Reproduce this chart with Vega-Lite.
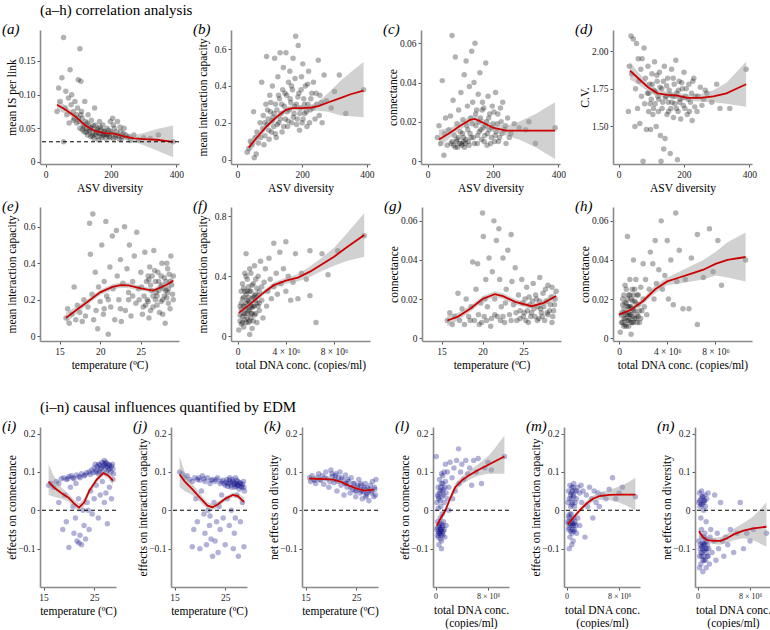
{
"$schema":"https://vega.github.io/schema/vega-lite/v6.json",
"background":"white",
"padding":{"left":2,"top":3,"right":0,"bottom":0},
"spacing":29,
"vconcat":[
{"spacing":5,"vconcat":[
{"spacing":9,"title":{"text":"(a–h) correlation analysis","fontStyle":"normal","dx":0,"dy":0,"fontSize":15},
"hconcat":[
{"width":139,"height":134,"title":"(a)","layer":[
{"data":{"name":"a"},"mark":"circle","encoding":{"x":{"field":"x","type":"quantitative","scale":{"domain":[-17,408],"nice":false,"zero":false},"axis":{"values":[0,100,200,300,400],"title":"ASV diversity","labelOverlap":false}},"y":{"field":"y","type":"quantitative","scale":{"domain":[-0.003,0.196],"nice":false,"zero":false},"axis":{"values":[0,0.05,0.1,0.15],"labelExpr":"datum.value==0?'0':format(datum.value,'.2f')","title":"mean IS per link"}}}},
{"data":{"name":"aL"},"mark":"area","encoding":{"x":{"field":"x","type":"quantitative"},"y":{"field":"lo","type":"quantitative"},"y2":{"field":"hi"}}},
{"data":{"name":"aL"},"mark":"line","encoding":{"x":{"field":"x","type":"quantitative"},"y":{"field":"y","type":"quantitative"}}},
{"data":{"values":[{"h":0.03}]},"mark":"rule","encoding":{"y":{"field":"h","type":"quantitative"}}}
]},
{"width":139,"height":134,"title":"(b)","layer":[
{"data":{"name":"b"},"mark":"circle","encoding":{"x":{"field":"x","type":"quantitative","scale":{"domain":[-20,410],"nice":false,"zero":false},"axis":{"values":[0,100,200,300,400],"title":"ASV diversity","labelOverlap":false}},"y":{"field":"y","type":"quantitative","scale":{"domain":[-0.024,0.704],"nice":false,"zero":false},"axis":{"values":[0,0.2,0.4,0.6],"labelExpr":"datum.value==0?'0':format(datum.value,'.1f')","title":"mean interaction capacity"}}}},
{"data":{"name":"bL"},"mark":"area","encoding":{"x":{"field":"x","type":"quantitative"},"y":{"field":"lo","type":"quantitative"},"y2":{"field":"hi"}}},
{"data":{"name":"bL"},"mark":"line","encoding":{"x":{"field":"x","type":"quantitative"},"y":{"field":"y","type":"quantitative"}}}
]},
{"width":139,"height":134,"title":"(c)","layer":[
{"data":{"name":"c"},"mark":"circle","encoding":{"x":{"field":"x","type":"quantitative","scale":{"domain":[-20,405],"nice":false,"zero":false},"axis":{"values":[0,100,200,300,400],"title":"ASV diversity","labelOverlap":false}},"y":{"field":"y","type":"quantitative","scale":{"domain":[-0.0015,0.0668],"nice":false,"zero":false},"axis":{"values":[0,0.02,0.04,0.06],"labelExpr":"datum.value==0?'0':format(datum.value,'.2f')","title":"connectance"}}}},
{"data":{"name":"cL"},"mark":"area","encoding":{"x":{"field":"x","type":"quantitative"},"y":{"field":"lo","type":"quantitative"},"y2":{"field":"hi"}}},
{"data":{"name":"cL"},"mark":"line","encoding":{"x":{"field":"x","type":"quantitative"},"y":{"field":"y","type":"quantitative"}}}
]},
{"width":139,"height":134,"title":"(d)","layer":[
{"data":{"name":"d"},"mark":"circle","encoding":{"x":{"field":"x","type":"quantitative","scale":{"domain":[-17,408],"nice":false,"zero":false},"axis":{"values":[0,100,200,300,400],"title":"ASV diversity","labelOverlap":false}},"y":{"field":"y","type":"quantitative","scale":{"domain":[1.251,2.14],"nice":false,"zero":false},"axis":{"values":[1.5,1.75,2.0],"format":".2f","title":"C.V."}}}},
{"data":{"name":"dL"},"mark":"area","encoding":{"x":{"field":"x","type":"quantitative"},"y":{"field":"lo","type":"quantitative"},"y2":{"field":"hi"}}},
{"data":{"name":"dL"},"mark":"line","encoding":{"x":{"field":"x","type":"quantitative"},"y":{"field":"y","type":"quantitative"}}}
]}
]},
{"spacing":14,"hconcat":[
{"width":139,"height":134,"title":"(e)","layer":[
{"data":{"name":"e"},"mark":"circle","encoding":{"x":{"field":"x","type":"quantitative","scale":{"domain":[12.6,29.7],"nice":false,"zero":false},"axis":{"values":[15,20,25],"title":"temperature (ºC)","labelOverlap":false}},"y":{"field":"y","type":"quantitative","scale":{"domain":[-0.027,0.709],"nice":false,"zero":false},"axis":{"values":[0,0.2,0.4,0.6],"labelExpr":"datum.value==0?'0':format(datum.value,'.1f')","title":"mean interaction capacity"}}}},
{"data":{"name":"eL"},"mark":"area","encoding":{"x":{"field":"x","type":"quantitative"},"y":{"field":"lo","type":"quantitative"},"y2":{"field":"hi"}}},
{"data":{"name":"eL"},"mark":"line","encoding":{"x":{"field":"x","type":"quantitative"},"y":{"field":"y","type":"quantitative"}}}
]},
{"width":139,"height":134,"title":"(f)","layer":[
{"data":{"name":"f"},"mark":"circle","encoding":{"x":{"field":"x","type":"quantitative","scale":{"domain":[-550000,10980000],"nice":false,"zero":false},"axis":{"values":[0,4000000,8000000],"labelExpr":"datum.value==0?'0':format(datum.value/1e6,'d')+' × 10⁶'","title":"total DNA conc. (copies/ml)","labelOverlap":false}},"y":{"field":"y","type":"quantitative","scale":{"domain":[-0.033,0.862],"nice":false,"zero":false},"axis":{"values":[0,0.2,0.4,0.6,0.8],"labelExpr":"datum.value==0?'0':format(datum.value,'.1f')","title":"mean interaction capacity"}}}},
{"data":{"name":"fL"},"mark":"area","encoding":{"x":{"field":"x","type":"quantitative"},"y":{"field":"lo","type":"quantitative"},"y2":{"field":"hi"}}},
{"data":{"name":"fL"},"mark":"line","encoding":{"x":{"field":"x","type":"quantitative"},"y":{"field":"y","type":"quantitative"}}}
]},
{"width":139,"height":134,"title":"(g)","layer":[
{"data":{"name":"g"},"mark":"circle","encoding":{"x":{"field":"x","type":"quantitative","scale":{"domain":[12.6,29.6],"nice":false,"zero":false},"axis":{"values":[15,20,25],"title":"temperature (ºC)","labelOverlap":false}},"y":{"field":"y","type":"quantitative","scale":{"domain":[-0.0015,0.0671],"nice":false,"zero":false},"axis":{"values":[0,0.02,0.04,0.06],"labelExpr":"datum.value==0?'0':format(datum.value,'.2f')","title":"connectance"}}}},
{"data":{"name":"gL"},"mark":"area","encoding":{"x":{"field":"x","type":"quantitative"},"y":{"field":"lo","type":"quantitative"},"y2":{"field":"hi"}}},
{"data":{"name":"gL"},"mark":"line","encoding":{"x":{"field":"x","type":"quantitative"},"y":{"field":"y","type":"quantitative"}}}
]},
{"width":139,"height":134,"title":"(h)","layer":[
{"data":{"name":"h"},"mark":"circle","encoding":{"x":{"field":"x","type":"quantitative","scale":{"domain":[-500000,11030000],"nice":false,"zero":false},"axis":{"values":[0,4000000,8000000],"labelExpr":"datum.value==0?'0':format(datum.value/1e6,'d')+' × 10⁶'","title":"total DNA conc. (copies/ml)","labelOverlap":false}},"y":{"field":"y","type":"quantitative","scale":{"domain":[-0.0015,0.0671],"nice":false,"zero":false},"axis":{"values":[0,0.02,0.04,0.06],"labelExpr":"datum.value==0?'0':format(datum.value,'.2f')","title":"connectance"}}}},
{"data":{"name":"hL"},"mark":"area","encoding":{"x":{"field":"x","type":"quantitative"},"y":{"field":"lo","type":"quantitative"},"y2":{"field":"hi"}}},
{"data":{"name":"hL"},"mark":"line","encoding":{"x":{"field":"x","type":"quantitative"},"y":{"field":"y","type":"quantitative"}}}
]}
]}
]},
{"spacing":16,"title":{"text":"(i–n) causal influences quantified by EDM","fontStyle":"normal","dx":0,"dy":0,"fontSize":15},
"hconcat":[
{"width":76,"height":160,"title":"(i)","layer":[
{"data":{"name":"i"},"mark":{"type":"circle","color":"#000080","opacity":0.3},"encoding":{"x":{"field":"x","type":"quantitative","scale":{"domain":[14.3,29.3],"nice":false,"zero":false},"axis":{"values":[15,20,25],"title":"temperature (ºC)","labelOverlap":false,"labelFlush":false}},"y":{"field":"y","type":"quantitative","scale":{"domain":[-0.2,0.217],"nice":false,"zero":false},"axis":{"values":[-0.1,0,0.1,0.2],"labelExpr":"datum.value==0?'0':format(datum.value,'.1f')","title":"effects on connectance"}}}},
{"data":{"name":"iL"},"mark":"area","encoding":{"x":{"field":"x","type":"quantitative"},"y":{"field":"lo","type":"quantitative"},"y2":{"field":"hi"}}},
{"data":{"name":"iL"},"mark":"line","encoding":{"x":{"field":"x","type":"quantitative"},"y":{"field":"y","type":"quantitative"}}},
{"data":{"values":[{"h":0}]},"mark":"rule","encoding":{"y":{"field":"h","type":"quantitative"}}}
]},
{"width":76,"height":160,"title":"(j)","layer":[
{"data":{"name":"j"},"mark":{"type":"circle","color":"#000080","opacity":0.3},"encoding":{"x":{"field":"x","type":"quantitative","scale":{"domain":[14.3,29.3],"nice":false,"zero":false},"axis":{"values":[15,20,25],"title":"temperature (ºC)","labelOverlap":false,"labelFlush":false}},"y":{"field":"y","type":"quantitative","scale":{"domain":[-0.2,0.217],"nice":false,"zero":false},"axis":{"values":[-0.1,0,0.1,0.2],"labelExpr":"datum.value==0?'0':format(datum.value,'.1f')","title":"effects on interaction capacity"}}}},
{"data":{"name":"jL"},"mark":"area","encoding":{"x":{"field":"x","type":"quantitative"},"y":{"field":"lo","type":"quantitative"},"y2":{"field":"hi"}}},
{"data":{"name":"jL"},"mark":"line","encoding":{"x":{"field":"x","type":"quantitative"},"y":{"field":"y","type":"quantitative"}}},
{"data":{"values":[{"h":0}]},"mark":"rule","encoding":{"y":{"field":"h","type":"quantitative"}}}
]},
{"width":76,"height":160,"title":"(k)","layer":[
{"data":{"name":"k"},"mark":{"type":"circle","color":"#000080","opacity":0.3},"encoding":{"x":{"field":"x","type":"quantitative","scale":{"domain":[14.3,29.3],"nice":false,"zero":false},"axis":{"values":[15,20,25],"title":"temperature (ºC)","labelOverlap":false,"labelFlush":false}},"y":{"field":"y","type":"quantitative","scale":{"domain":[-0.2,0.217],"nice":false,"zero":false},"axis":{"values":[-0.1,0,0.1,0.2],"labelExpr":"datum.value==0?'0':format(datum.value,'.1f')","title":"net effects on diversity"}}}},
{"data":{"name":"kL"},"mark":"area","encoding":{"x":{"field":"x","type":"quantitative"},"y":{"field":"lo","type":"quantitative"},"y2":{"field":"hi"}}},
{"data":{"name":"kL"},"mark":"line","encoding":{"x":{"field":"x","type":"quantitative"},"y":{"field":"y","type":"quantitative"}}},
{"data":{"values":[{"h":0}]},"mark":"rule","encoding":{"y":{"field":"h","type":"quantitative"}}}
]},
{"width":76,"height":160,"title":"(l)","layer":[
{"data":{"name":"l"},"mark":{"type":"circle","color":"#000080","opacity":0.3},"encoding":{"x":{"field":"x","type":"quantitative","scale":{"domain":[-400000,11200000],"nice":false,"zero":false},"axis":{"values":[0,4000000,8000000],"labelExpr":"datum.value==0?'0':format(datum.value/1e6,'d')+' × 10⁶'","title":["total DNA conc.","(copies/ml)"],"titleLineHeight":13,"labelOverlap":false,"labelFlush":false,"labelFontSize":8}},"y":{"field":"y","type":"quantitative","scale":{"domain":[-0.2,0.217],"nice":false,"zero":false},"axis":{"values":[-0.1,0,0.1,0.2],"labelExpr":"datum.value==0?'0':format(datum.value,'.1f')","title":"effects on connectance"}}}},
{"data":{"name":"lL"},"mark":"area","encoding":{"x":{"field":"x","type":"quantitative"},"y":{"field":"lo","type":"quantitative"},"y2":{"field":"hi"}}},
{"data":{"name":"lL"},"mark":"line","encoding":{"x":{"field":"x","type":"quantitative"},"y":{"field":"y","type":"quantitative"}}},
{"data":{"values":[{"h":0}]},"mark":"rule","encoding":{"y":{"field":"h","type":"quantitative"}}}
]},
{"width":76,"height":160,"title":"(m)","layer":[
{"data":{"name":"m"},"mark":{"type":"circle","color":"#000080","opacity":0.3},"encoding":{"x":{"field":"x","type":"quantitative","scale":{"domain":[-400000,11200000],"nice":false,"zero":false},"axis":{"values":[0,4000000,8000000],"labelExpr":"datum.value==0?'0':format(datum.value/1e6,'d')+' × 10⁶'","title":["total DNA conc.","(copies/ml)"],"titleLineHeight":13,"labelOverlap":false,"labelFlush":false,"labelFontSize":8}},"y":{"field":"y","type":"quantitative","scale":{"domain":[-0.2,0.217],"nice":false,"zero":false},"axis":{"values":[-0.1,0,0.1,0.2],"labelExpr":"datum.value==0?'0':format(datum.value,'.1f')","title":"effects on interaction capacity"}}}},
{"data":{"name":"mL"},"mark":"area","encoding":{"x":{"field":"x","type":"quantitative"},"y":{"field":"lo","type":"quantitative"},"y2":{"field":"hi"}}},
{"data":{"name":"mL"},"mark":"line","encoding":{"x":{"field":"x","type":"quantitative"},"y":{"field":"y","type":"quantitative"}}},
{"data":{"values":[{"h":0}]},"mark":"rule","encoding":{"y":{"field":"h","type":"quantitative"}}}
]},
{"width":76,"height":160,"title":"(n)","layer":[
{"data":{"name":"n"},"mark":{"type":"circle","color":"#000080","opacity":0.3},"encoding":{"x":{"field":"x","type":"quantitative","scale":{"domain":[-400000,11200000],"nice":false,"zero":false},"axis":{"values":[0,4000000,8000000],"labelExpr":"datum.value==0?'0':format(datum.value/1e6,'d')+' × 10⁶'","title":["total DNA conc.","(copies/ml)"],"titleLineHeight":13,"labelOverlap":false,"labelFlush":false,"labelFontSize":8}},"y":{"field":"y","type":"quantitative","scale":{"domain":[-0.2,0.217],"nice":false,"zero":false},"axis":{"values":[-0.1,0,0.1,0.2],"labelExpr":"datum.value==0?'0':format(datum.value,'.1f')","title":"net effects on diversity"}}}},
{"data":{"name":"nL"},"mark":"area","encoding":{"x":{"field":"x","type":"quantitative"},"y":{"field":"lo","type":"quantitative"},"y2":{"field":"hi"}}},
{"data":{"name":"nL"},"mark":"line","encoding":{"x":{"field":"x","type":"quantitative"},"y":{"field":"y","type":"quantitative"}}},
{"data":{"values":[{"h":0}]},"mark":"rule","encoding":{"y":{"field":"h","type":"quantitative"}}}
]}
]}
],
"config":{
"view":{"stroke":null},
"font":"Liberation Serif, Times New Roman, DejaVu Serif, serif",
"title":{"font":"Liberation Serif, Times New Roman, DejaVu Serif, serif","fontSize":15,"fontWeight":"normal","fontStyle":"italic","anchor":"start","frame":"group","dx":-38,"dy":11,"color":"#000000"},
"axis":{"grid":false,"domainColor":"#8a8a8a","domainWidth":1.6,"tickColor":"#555555","tickSize":3,"labelFont":"Liberation Serif, Times New Roman, DejaVu Serif, serif","labelFontSize":9.5,"labelColor":"#1a1a1a","titleFont":"Liberation Serif, Times New Roman, DejaVu Serif, serif","titleFontSize":11.5,"titleFontWeight":"normal","titleColor":"#000000","labelPadding":2,"titlePadding":4,"labelOverlap":false,"labelSeparation":0,"labelBound":false},
"axisX":{"labelOverlap":false},
"axisY":{"minExtent":20,"maxExtent":20,"titlePadding":3},
"circle":{"size":30,"opacity":0.3,"color":"#000000"},
"area":{"color":"#999999","opacity":0.45},
"line":{"color":"#cc0000","strokeWidth":1.8},
"rule":{"color":"#000000","strokeDash":[4,3],"strokeWidth":1}
},
"datasets":{
"a":[{"x":35,"y":0.075},{"x":40,"y":0.11},{"x":45,"y":0.09},{"x":50,"y":0.125},{"x":55,"y":0.185},{"x":55,"y":0.03},{"x":60,"y":0.08},{"x":62,"y":0.105},{"x":65,"y":0.07},{"x":70,"y":0.095},{"x":72,"y":0.058},{"x":75,"y":0.137},{"x":78,"y":0.085},{"x":80,"y":0.1},{"x":85,"y":0.075},{"x":88,"y":0.065},{"x":90,"y":0.09},{"x":95,"y":0.07},{"x":98,"y":0.08},{"x":100,"y":0.122},{"x":102,"y":0.06},{"x":105,"y":0.168},{"x":105,"y":0.05},{"x":108,"y":0.12},{"x":110,"y":0.075},{"x":112,"y":0.065},{"x":115,"y":0.055},{"x":118,"y":0.045},{"x":120,"y":0.09},{"x":122,"y":0.06},{"x":125,"y":0.05},{"x":128,"y":0.04},{"x":130,"y":0.07},{"x":132,"y":0.055},{"x":135,"y":0.045},{"x":138,"y":0.038},{"x":140,"y":0.062},{"x":142,"y":0.05},{"x":145,"y":0.042},{"x":148,"y":0.035},{"x":150,"y":0.08},{"x":152,"y":0.055},{"x":155,"y":0.045},{"x":158,"y":0.038},{"x":160,"y":0.05},{"x":162,"y":0.033},{"x":165,"y":0.06},{"x":168,"y":0.042},{"x":170,"y":0.048},{"x":172,"y":0.036},{"x":175,"y":0.055},{"x":178,"y":0.04},{"x":180,"y":0.045},{"x":185,"y":0.035},{"x":188,"y":0.05},{"x":190,"y":0.042},{"x":195,"y":0.038},{"x":198,"y":0.06},{"x":200,"y":0.045},{"x":205,"y":0.065},{"x":208,"y":0.035},{"x":210,"y":0.05},{"x":215,"y":0.04},{"x":220,"y":0.06},{"x":225,"y":0.034},{"x":230,"y":0.045},{"x":235,"y":0.038},{"x":240,"y":0.05},{"x":250,"y":0.036},{"x":260,"y":0.032},{"x":270,"y":0.04},{"x":285,"y":0.033},{"x":300,"y":0.036},{"x":320,"y":0.035},{"x":345,"y":0.04},{"x":390,"y":0.03},{"x":112,"y":0.048},{"x":118,"y":0.052},{"x":124,"y":0.044},{"x":127,"y":0.058},{"x":133,"y":0.047},{"x":137,"y":0.051},{"x":143,"y":0.039},{"x":146,"y":0.054},{"x":153,"y":0.041},{"x":157,"y":0.048},{"x":163,"y":0.043},{"x":167,"y":0.052},{"x":173,"y":0.039},{"x":177,"y":0.046},{"x":183,"y":0.042},{"x":187,"y":0.04},{"x":193,"y":0.047},{"x":197,"y":0.036},{"x":203,"y":0.042},{"x":207,"y":0.055},{"x":213,"y":0.037},{"x":217,"y":0.045},{"x":223,"y":0.039},{"x":228,"y":0.052},{"x":233,"y":0.035},{"x":238,"y":0.042},{"x":245,"y":0.04},{"x":255,"y":0.038},{"x":100,"y":0.065},{"x":95,"y":0.058},{"x":85,"y":0.062},{"x":108,"y":0.07}],
"aL":[{"x":35,"y":0.085,"lo":0.077,"hi":0.094},{"x":60,"y":0.078,"lo":0.072,"hi":0.084},{"x":90,"y":0.068,"lo":0.064,"hi":0.072},{"x":120,"y":0.055,"lo":0.052,"hi":0.058},{"x":150,"y":0.046,"lo":0.044,"hi":0.048},{"x":180,"y":0.043,"lo":0.041,"hi":0.045},{"x":210,"y":0.042,"lo":0.04,"hi":0.044},{"x":240,"y":0.038,"lo":0.035,"hi":0.041},{"x":270,"y":0.035,"lo":0.03,"hi":0.04},{"x":300,"y":0.034,"lo":0.025,"hi":0.043},{"x":340,"y":0.033,"lo":0.017,"hi":0.049},{"x":390,"y":0.03,"lo":0.007,"hi":0.054}],
"b":[{"x":30,"y":0.04},{"x":35,"y":0.06},{"x":40,"y":0.1},{"x":45,"y":0.08},{"x":50,"y":0.26},{"x":52,"y":0.01},{"x":55,"y":0.12},{"x":58,"y":0.03},{"x":60,"y":0.15},{"x":65,"y":0.09},{"x":70,"y":0.2},{"x":72,"y":0.12},{"x":75,"y":0.42},{"x":78,"y":0.17},{"x":80,"y":0.24},{"x":82,"y":0.08},{"x":85,"y":0.13},{"x":88,"y":0.3},{"x":90,"y":0.56},{"x":92,"y":0.19},{"x":95,"y":0.22},{"x":98,"y":0.11},{"x":100,"y":0.35},{"x":102,"y":0.26},{"x":105,"y":0.15},{"x":108,"y":0.4},{"x":110,"y":0.23},{"x":112,"y":0.18},{"x":115,"y":0.55},{"x":118,"y":0.3},{"x":120,"y":0.12},{"x":122,"y":0.27},{"x":125,"y":0.45},{"x":128,"y":0.2},{"x":130,"y":0.33},{"x":132,"y":0.58},{"x":135,"y":0.25},{"x":138,"y":0.15},{"x":140,"y":0.38},{"x":142,"y":0.5},{"x":145,"y":0.29},{"x":148,"y":0.22},{"x":150,"y":0.58},{"x":152,"y":0.35},{"x":155,"y":0.18},{"x":158,"y":0.42},{"x":160,"y":0.27},{"x":162,"y":0.48},{"x":165,"y":0.31},{"x":168,"y":0.2},{"x":170,"y":0.38},{"x":172,"y":0.55},{"x":175,"y":0.25},{"x":178,"y":0.44},{"x":180,"y":0.67},{"x":182,"y":0.3},{"x":185,"y":0.22},{"x":188,"y":0.62},{"x":190,"y":0.36},{"x":192,"y":0.16},{"x":195,"y":0.28},{"x":198,"y":0.45},{"x":200,"y":0.2},{"x":202,"y":0.52},{"x":205,"y":0.33},{"x":208,"y":0.25},{"x":210,"y":0.4},{"x":215,"y":0.18},{"x":218,"y":0.3},{"x":220,"y":0.48},{"x":225,"y":0.27},{"x":230,"y":0.36},{"x":235,"y":0.42},{"x":240,"y":0.22},{"x":245,"y":0.3},{"x":250,"y":0.54},{"x":255,"y":0.35},{"x":262,"y":0.2},{"x":268,"y":0.46},{"x":275,"y":0.32},{"x":290,"y":0.28},{"x":300,"y":0.37},{"x":315,"y":0.46},{"x":335,"y":0.25},{"x":390,"y":0.38},{"x":85,"y":0.2},{"x":93,"y":0.27},{"x":97,"y":0.16},{"x":103,"y":0.31},{"x":107,"y":0.21},{"x":113,"y":0.25},{"x":117,"y":0.14},{"x":123,"y":0.19},{"x":127,"y":0.35},{"x":133,"y":0.22},{"x":137,"y":0.3},{"x":143,"y":0.18},{"x":147,"y":0.36},{"x":153,"y":0.26},{"x":157,"y":0.21},{"x":163,"y":0.33},{"x":167,"y":0.4},{"x":173,"y":0.23},{"x":177,"y":0.29},{"x":183,"y":0.19},{"x":187,"y":0.34},{"x":193,"y":0.25},{"x":197,"y":0.38},{"x":203,"y":0.22},{"x":207,"y":0.3},{"x":213,"y":0.26},{"x":217,"y":0.41},{"x":223,"y":0.2},{"x":227,"y":0.33},{"x":233,"y":0.28},{"x":243,"y":0.36},{"x":253,"y":0.24},{"x":260,"y":0.31}],
"bL":[{"x":35,"y":0.065,"lo":0.03,"hi":0.1},{"x":60,"y":0.12,"lo":0.095,"hi":0.145},{"x":90,"y":0.18,"lo":0.165,"hi":0.195},{"x":120,"y":0.23,"lo":0.215,"hi":0.245},{"x":150,"y":0.27,"lo":0.255,"hi":0.285},{"x":170,"y":0.28,"lo":0.265,"hi":0.295},{"x":200,"y":0.28,"lo":0.265,"hi":0.295},{"x":230,"y":0.283,"lo":0.265,"hi":0.3},{"x":250,"y":0.29,"lo":0.265,"hi":0.315},{"x":280,"y":0.31,"lo":0.26,"hi":0.36},{"x":320,"y":0.335,"lo":0.24,"hi":0.43},{"x":350,"y":0.355,"lo":0.235,"hi":0.475},{"x":390,"y":0.375,"lo":0.23,"hi":0.53}],
"c":[{"x":30,"y":0.012},{"x":35,"y":0.018},{"x":40,"y":0.009},{"x":45,"y":0.041},{"x":50,"y":0.003},{"x":52,"y":0.014},{"x":55,"y":0.022},{"x":60,"y":0.008},{"x":65,"y":0.016},{"x":70,"y":0.023},{"x":72,"y":0.009},{"x":75,"y":0.064},{"x":78,"y":0.031},{"x":80,"y":0.008},{"x":82,"y":0.013},{"x":85,"y":0.053},{"x":88,"y":0.01},{"x":90,"y":0.019},{"x":92,"y":0.007},{"x":95,"y":0.026},{"x":98,"y":0.009},{"x":100,"y":0.015},{"x":102,"y":0.035},{"x":105,"y":0.008},{"x":108,"y":0.021},{"x":110,"y":0.012},{"x":112,"y":0.044},{"x":115,"y":0.009},{"x":118,"y":0.051},{"x":120,"y":0.018},{"x":122,"y":0.028},{"x":125,"y":0.01},{"x":128,"y":0.038},{"x":130,"y":0.014},{"x":132,"y":0.022},{"x":135,"y":0.056},{"x":138,"y":0.03},{"x":140,"y":0.012},{"x":142,"y":0.04},{"x":145,"y":0.06},{"x":148,"y":0.018},{"x":150,"y":0.026},{"x":152,"y":0.009},{"x":155,"y":0.034},{"x":158,"y":0.015},{"x":160,"y":0.045},{"x":162,"y":0.022},{"x":165,"y":0.011},{"x":168,"y":0.03},{"x":170,"y":0.017},{"x":172,"y":0.027},{"x":175,"y":0.013},{"x":178,"y":0.05},{"x":180,"y":0.02},{"x":182,"y":0.008},{"x":185,"y":0.033},{"x":188,"y":0.016},{"x":190,"y":0.024},{"x":195,"y":0.012},{"x":198,"y":0.028},{"x":200,"y":0.019},{"x":205,"y":0.01},{"x":208,"y":0.035},{"x":210,"y":0.015},{"x":215,"y":0.024},{"x":220,"y":0.012},{"x":225,"y":0.02},{"x":230,"y":0.03},{"x":235,"y":0.016},{"x":240,"y":0.009},{"x":245,"y":0.022},{"x":255,"y":0.014},{"x":265,"y":0.019},{"x":280,"y":0.017},{"x":300,"y":0.016},{"x":310,"y":0.02},{"x":330,"y":0.009},{"x":390,"y":0.017},{"x":75,"y":0.01},{"x":85,"y":0.007},{"x":95,"y":0.012},{"x":103,"y":0.009},{"x":107,"y":0.014},{"x":113,"y":0.007},{"x":117,"y":0.011},{"x":123,"y":0.016},{"x":127,"y":0.008},{"x":133,"y":0.012},{"x":137,"y":0.019},{"x":143,"y":0.009},{"x":147,"y":0.024},{"x":153,"y":0.013},{"x":157,"y":0.02},{"x":163,"y":0.016},{"x":167,"y":0.026},{"x":173,"y":0.01},{"x":177,"y":0.018},{"x":183,"y":0.014},{"x":187,"y":0.022},{"x":193,"y":0.009},{"x":197,"y":0.017},{"x":203,"y":0.025},{"x":207,"y":0.013},{"x":213,"y":0.019},{"x":217,"y":0.01},{"x":223,"y":0.027},{"x":228,"y":0.014},{"x":238,"y":0.018},{"x":250,"y":0.012},{"x":90,"y":0.011},{"x":110,"y":0.01}],
"cL":[{"x":35,"y":0.011,"lo":0.007,"hi":0.016},{"x":70,"y":0.0145,"lo":0.012,"hi":0.017},{"x":100,"y":0.018,"lo":0.016,"hi":0.02},{"x":130,"y":0.021,"lo":0.019,"hi":0.023},{"x":145,"y":0.0215,"lo":0.0195,"hi":0.0235},{"x":170,"y":0.0195,"lo":0.0175,"hi":0.0215},{"x":200,"y":0.017,"lo":0.015,"hi":0.019},{"x":240,"y":0.0155,"lo":0.013,"hi":0.018},{"x":280,"y":0.0155,"lo":0.011,"hi":0.02},{"x":330,"y":0.0155,"lo":0.007,"hi":0.024},{"x":390,"y":0.0155,"lo":0.001,"hi":0.03}],
"d":[{"x":30,"y":1.6},{"x":33,"y":1.9},{"x":38,"y":2.1},{"x":40,"y":1.85},{"x":45,"y":2.08},{"x":50,"y":1.5},{"x":52,"y":1.75},{"x":55,"y":2.05},{"x":58,"y":1.62},{"x":60,"y":1.95},{"x":62,"y":1.8},{"x":65,"y":1.52},{"x":68,"y":1.88},{"x":70,"y":1.7},{"x":72,"y":1.95},{"x":75,"y":1.27},{"x":78,"y":2.02},{"x":80,"y":1.65},{"x":82,"y":1.82},{"x":85,"y":1.48},{"x":88,"y":1.72},{"x":90,"y":1.9},{"x":92,"y":1.6},{"x":95,"y":1.78},{"x":98,"y":1.48},{"x":100,"y":1.68},{"x":102,"y":1.85},{"x":105,"y":1.58},{"x":108,"y":1.74},{"x":110,"y":1.93},{"x":112,"y":1.65},{"x":115,"y":1.5},{"x":118,"y":1.8},{"x":120,"y":1.7},{"x":122,"y":1.6},{"x":125,"y":1.86},{"x":128,"y":1.44},{"x":130,"y":1.27},{"x":132,"y":1.75},{"x":135,"y":1.66},{"x":138,"y":1.35},{"x":140,"y":1.9},{"x":142,"y":1.42},{"x":145,"y":1.7},{"x":148,"y":1.58},{"x":150,"y":1.82},{"x":152,"y":1.66},{"x":155,"y":1.74},{"x":158,"y":1.32},{"x":160,"y":1.62},{"x":162,"y":1.88},{"x":165,"y":1.7},{"x":168,"y":1.56},{"x":170,"y":1.78},{"x":172,"y":1.65},{"x":175,"y":1.94},{"x":178,"y":1.72},{"x":180,"y":1.28},{"x":182,"y":1.6},{"x":185,"y":1.8},{"x":188,"y":1.68},{"x":190,"y":1.55},{"x":195,"y":1.75},{"x":198,"y":1.64},{"x":200,"y":1.86},{"x":205,"y":1.7},{"x":210,"y":1.58},{"x":215,"y":1.78},{"x":220,"y":1.66},{"x":225,"y":1.54},{"x":230,"y":1.82},{"x":235,"y":1.7},{"x":240,"y":1.6},{"x":250,"y":1.76},{"x":260,"y":1.68},{"x":270,"y":1.72},{"x":285,"y":1.66},{"x":300,"y":1.78},{"x":310,"y":1.62},{"x":340,"y":1.62},{"x":390,"y":1.88},{"x":93,"y":1.72},{"x":97,"y":1.65},{"x":103,"y":1.78},{"x":107,"y":1.62},{"x":113,"y":1.73},{"x":117,"y":1.84},{"x":123,"y":1.68},{"x":127,"y":1.76},{"x":133,"y":1.62},{"x":137,"y":1.8},{"x":143,"y":1.69},{"x":147,"y":1.77},{"x":153,"y":1.6},{"x":157,"y":1.71},{"x":163,"y":1.66},{"x":167,"y":1.82},{"x":173,"y":1.7},{"x":177,"y":1.62},{"x":183,"y":1.74},{"x":187,"y":1.66},{"x":193,"y":1.79},{"x":197,"y":1.69},{"x":203,"y":1.62},{"x":207,"y":1.75},{"x":213,"y":1.68},{"x":217,"y":1.6},{"x":223,"y":1.72},{"x":227,"y":1.8},{"x":233,"y":1.63},{"x":243,"y":1.7},{"x":255,"y":1.64},{"x":265,"y":1.74}],
"dL":[{"x":35,"y":1.87,"lo":1.81,"hi":1.93},{"x":60,"y":1.82,"lo":1.78,"hi":1.86},{"x":90,"y":1.76,"lo":1.73,"hi":1.79},{"x":120,"y":1.72,"lo":1.7,"hi":1.74},{"x":150,"y":1.71,"lo":1.69,"hi":1.73},{"x":180,"y":1.705,"lo":1.685,"hi":1.725},{"x":210,"y":1.69,"lo":1.67,"hi":1.71},{"x":250,"y":1.69,"lo":1.665,"hi":1.715},{"x":290,"y":1.7,"lo":1.66,"hi":1.74},{"x":330,"y":1.72,"lo":1.65,"hi":1.79},{"x":360,"y":1.75,"lo":1.64,"hi":1.86},{"x":390,"y":1.78,"lo":1.63,"hi":1.93}],
"e":[{"x":15.8,"y":0.1},{"x":16,"y":0.15},{"x":16.2,"y":0.07},{"x":16.5,"y":0.12},{"x":16.8,"y":0.27},{"x":17,"y":0.09},{"x":17.2,"y":0.17},{"x":17.5,"y":0.13},{"x":17.8,"y":0.08},{"x":18,"y":0.2},{"x":18.2,"y":0.11},{"x":18.5,"y":0.16},{"x":18.7,"y":0.62},{"x":18.8,"y":0.45},{"x":19,"y":0.23},{"x":19.1,"y":0.67},{"x":19.2,"y":0.09},{"x":19.4,"y":0.35},{"x":19.5,"y":0.14},{"x":19.7,"y":0.04},{"x":19.8,"y":0.27},{"x":20,"y":0.19},{"x":20.2,"y":0.5},{"x":20.4,"y":0.12},{"x":20.5,"y":0.3},{"x":20.7,"y":0.63},{"x":20.8,"y":0.22},{"x":21,"y":0.01},{"x":21.2,"y":0.38},{"x":21.3,"y":0.16},{"x":21.5,"y":0.55},{"x":21.6,"y":0.26},{"x":21.8,"y":0.09},{"x":22,"y":0.58},{"x":22.1,"y":0.33},{"x":22.3,"y":0.2},{"x":22.5,"y":0.42},{"x":22.6,"y":0.08},{"x":22.8,"y":0.29},{"x":23,"y":0.6},{"x":23.1,"y":0.14},{"x":23.3,"y":0.37},{"x":23.5,"y":0.24},{"x":23.6,"y":0.5},{"x":23.8,"y":0.11},{"x":24,"y":0.3},{"x":24.2,"y":0.44},{"x":24.4,"y":0.18},{"x":24.5,"y":0.57},{"x":24.7,"y":0.26},{"x":25,"y":0.35},{"x":25.2,"y":0.12},{"x":25.4,"y":0.22},{"x":25.5,"y":0.46},{"x":25.7,"y":0.3},{"x":25.9,"y":0.19},{"x":26,"y":0.1},{"x":26.1,"y":0.38},{"x":26.3,"y":0.25},{"x":26.5,"y":0.16},{"x":26.6,"y":0.47},{"x":26.8,"y":0.3},{"x":27,"y":0.22},{"x":27.1,"y":0.35},{"x":27.3,"y":0.13},{"x":27.4,"y":0.27},{"x":27.6,"y":0.4},{"x":27.7,"y":0.2},{"x":27.9,"y":0.32},{"x":28,"y":0.07},{"x":28.1,"y":0.25},{"x":28.3,"y":0.37},{"x":28.4,"y":0.18},{"x":28.6,"y":0.3},{"x":28.7,"y":0.44},{"x":28.9,"y":0.23},{"x":29,"y":0.33},{"x":25.8,"y":0.2},{"x":26.2,"y":0.28},{"x":26.9,"y":0.24},{"x":27.2,"y":0.3},{"x":27.8,"y":0.26},{"x":28.2,"y":0.21},{"x":28.5,"y":0.34},{"x":25.6,"y":0.17},{"x":26.4,"y":0.33},{"x":27.5,"y":0.19},{"x":24.8,"y":0.2},{"x":25.1,"y":0.27},{"x":25.3,"y":0.16},{"x":25.9,"y":0.33},{"x":26.2,"y":0.14},{"x":26.5,"y":0.22},{"x":26.7,"y":0.36},{"x":27,"y":0.17},{"x":27.2,"y":0.25},{"x":27.5,"y":0.33},{"x":27.7,"y":0.12},{"x":27.9,"y":0.22},{"x":28.1,"y":0.3},{"x":28.2,"y":0.4},{"x":28.4,"y":0.26},{"x":28.6,"y":0.15},{"x":28.8,"y":0.28},{"x":29,"y":0.2},{"x":26,"y":0.31},{"x":26.8,"y":0.2},{"x":27.6,"y":0.28},{"x":28.3,"y":0.24},{"x":23.5,"y":0.2},{"x":22.5,"y":0.15},{"x":21,"y":0.2},{"x":20.5,"y":0.15},{"x":24,"y":0.22}],
"eL":[{"x":15.8,"y":0.1,"lo":0.07,"hi":0.13},{"x":17,"y":0.14,"lo":0.12,"hi":0.16},{"x":18.5,"y":0.19,"lo":0.175,"hi":0.205},{"x":20,"y":0.24,"lo":0.225,"hi":0.255},{"x":21.5,"y":0.27,"lo":0.255,"hi":0.285},{"x":22.5,"y":0.28,"lo":0.265,"hi":0.295},{"x":23.5,"y":0.278,"lo":0.263,"hi":0.293},{"x":25,"y":0.262,"lo":0.25,"hi":0.275},{"x":26.5,"y":0.25,"lo":0.238,"hi":0.262},{"x":27.5,"y":0.268,"lo":0.255,"hi":0.281},{"x":28.3,"y":0.285,"lo":0.265,"hi":0.305},{"x":29,"y":0.305,"lo":0.275,"hi":0.335}],
"f":[{"x":1e5,"y":0.04},{"x":2e5,"y":0.1},{"x":3e5,"y":0.18},{"x":3e5,"y":0.08},{"x":4e5,"y":0.25},{"x":4e5,"y":0.13},{"x":5e5,"y":0.06},{"x":5e5,"y":0.32},{"x":6e5,"y":0.2},{"x":6e5,"y":0.11},{"x":7e5,"y":0.55},{"x":7e5,"y":0.28},{"x":8e5,"y":0.15},{"x":8e5,"y":0.38},{"x":9e5,"y":0.09},{"x":9e5,"y":0.23},{"x":1e6,"y":0.01},{"x":1e6,"y":0.3},{"x":1e6,"y":0.18},{"x":1.1e6,"y":0.42},{"x":1.1e6,"y":0.12},{"x":1.2e6,"y":0.25},{"x":1.2e6,"y":0.05},{"x":1.3e6,"y":0.35},{"x":1.3e6,"y":0.2},{"x":1.4e6,"y":0.47},{"x":1.4e6,"y":0.14},{"x":1.5e6,"y":0.28},{"x":1.6e6,"y":0.09},{"x":1.6e6,"y":0.22},{"x":1.7e6,"y":0.4},{"x":1.8e6,"y":0.17},{"x":1.8e6,"y":0.3},{"x":1.9e6,"y":0.5},{"x":2e6,"y":0.24},{"x":2.1e6,"y":0.12},{"x":2.2e6,"y":0.36},{"x":2.3e6,"y":0.45},{"x":2.4e6,"y":0.2},{"x":2.5e6,"y":0.3},{"x":2.6e6,"y":0.52},{"x":2.7e6,"y":0.38},{"x":2.8e6,"y":0.25},{"x":3e6,"y":0.62},{"x":3e6,"y":0.33},{"x":3.2e6,"y":0.42},{"x":3.3e6,"y":0.28},{"x":3.5e6,"y":0.56},{"x":3.6e6,"y":0.35},{"x":3.8e6,"y":0.45},{"x":4e6,"y":0.63},{"x":4e6,"y":0.3},{"x":4.2e6,"y":0.4},{"x":4.4e6,"y":0.24},{"x":4.6e6,"y":0.36},{"x":4.8e6,"y":0.55},{"x":5e6,"y":0.25},{"x":5.3e6,"y":0.42},{"x":5.7e6,"y":0.38},{"x":6e6,"y":0.57},{"x":6e6,"y":0.27},{"x":6.5e6,"y":0.09},{"x":7e6,"y":0.55},{"x":7.5e6,"y":0.41},{"x":8.3e6,"y":0.57},{"x":1.05e7,"y":0.67},{"x":2e5,"y":0.2},{"x":5e5,"y":0.15},{"x":7e5,"y":0.09},{"x":9e5,"y":0.33},{"x":1.1e6,"y":0.2},{"x":1.3e6,"y":0.1},{"x":1.5e6,"y":0.38},{"x":3e5,"y":0.3},{"x":6e5,"y":0.42},{"x":8e5,"y":0.24},{"x":1.2e6,"y":0.15},{"x":1.4e6,"y":0.27},{"x":1.7e6,"y":0.2},{"x":2e5,"y":0.14},{"x":3e5,"y":0.22},{"x":4e5,"y":0.09},{"x":5e5,"y":0.2},{"x":5e5,"y":0.26},{"x":6e5,"y":0.15},{"x":6e5,"y":0.3},{"x":7e5,"y":0.18},{"x":7e5,"y":0.22},{"x":8e5,"y":0.12},{"x":8e5,"y":0.3},{"x":9e5,"y":0.17},{"x":9e5,"y":0.26},{"x":1e6,"y":0.1},{"x":1e6,"y":0.22},{"x":1.1e6,"y":0.15},{"x":1.1e6,"y":0.3},{"x":1.2e6,"y":0.19},{"x":1.2e6,"y":0.34},{"x":1.3e6,"y":0.26},{"x":1.4e6,"y":0.2},{"x":1.5e6,"y":0.15},{"x":1.5e6,"y":0.24},{"x":1.6e6,"y":0.32},{"x":1.7e6,"y":0.27},{"x":1.8e6,"y":0.22},{"x":2e6,"y":0.33},{"x":4e5,"y":0.35},{"x":7e5,"y":0.4},{"x":1e6,"y":0.45}],
"fL":[{"x":1e5,"y":0.155,"lo":0.13,"hi":0.18},{"x":1e6,"y":0.21,"lo":0.195,"hi":0.225},{"x":2e6,"y":0.28,"lo":0.265,"hi":0.295},{"x":3e6,"y":0.34,"lo":0.32,"hi":0.36},{"x":4e6,"y":0.37,"lo":0.35,"hi":0.39},{"x":5e6,"y":0.39,"lo":0.365,"hi":0.415},{"x":6e6,"y":0.43,"lo":0.395,"hi":0.465},{"x":7e6,"y":0.48,"lo":0.435,"hi":0.525},{"x":8e6,"y":0.53,"lo":0.47,"hi":0.59},{"x":9e6,"y":0.59,"lo":0.5,"hi":0.68},{"x":1.05e7,"y":0.675,"lo":0.53,"hi":0.82}],
"g":[{"x":15.7,"y":0.009},{"x":16,"y":0.013},{"x":16.3,"y":0.007},{"x":16.6,"y":0.011},{"x":17,"y":0.023},{"x":17.2,"y":0.009},{"x":17.5,"y":0.015},{"x":17.8,"y":0.007},{"x":18,"y":0.02},{"x":18.3,"y":0.011},{"x":18.6,"y":0.016},{"x":18.8,"y":0.039},{"x":19,"y":0.009},{"x":19.2,"y":0.025},{"x":19.4,"y":0.038},{"x":19.6,"y":0.007},{"x":19.8,"y":0.018},{"x":20,"y":0.064},{"x":20.1,"y":0.052},{"x":20.2,"y":0.011},{"x":20.4,"y":0.03},{"x":20.6,"y":0.016},{"x":20.8,"y":0.041},{"x":21,"y":0.006},{"x":21.2,"y":0.034},{"x":21.4,"y":0.06},{"x":21.5,"y":0.02},{"x":21.7,"y":0.05},{"x":21.8,"y":0.011},{"x":22,"y":0.056},{"x":22.1,"y":0.03},{"x":22.3,"y":0.016},{"x":22.5,"y":0.041},{"x":22.7,"y":0.008},{"x":22.9,"y":0.025},{"x":23.1,"y":0.045},{"x":23.3,"y":0.012},{"x":23.5,"y":0.053},{"x":23.6,"y":0.029},{"x":23.8,"y":0.017},{"x":24,"y":0.036},{"x":24.2,"y":0.009},{"x":24.4,"y":0.022},{"x":24.6,"y":0.014},{"x":24.8,"y":0.03},{"x":25,"y":0.011},{"x":25.2,"y":0.02},{"x":25.4,"y":0.026},{"x":25.6,"y":0.008},{"x":25.8,"y":0.017},{"x":26,"y":0.013},{"x":26.2,"y":0.028},{"x":26.4,"y":0.011},{"x":26.6,"y":0.02},{"x":26.8,"y":0.016},{"x":27,"y":0.031},{"x":27.2,"y":0.013},{"x":27.4,"y":0.023},{"x":27.6,"y":0.009},{"x":27.8,"y":0.019},{"x":28,"y":0.027},{"x":28.2,"y":0.014},{"x":28.4,"y":0.021},{"x":28.6,"y":0.011},{"x":28.8,"y":0.017},{"x":29,"y":0.024},{"x":26.1,"y":0.019},{"x":27.1,"y":0.015},{"x":27.9,"y":0.013},{"x":28.5,"y":0.026},{"x":25.5,"y":0.014},{"x":26.9,"y":0.01},{"x":22.2,"y":0.009},{"x":21.1,"y":0.01},{"x":19.9,"y":0.008},{"x":24.6,"y":0.01},{"x":24.9,"y":0.018},{"x":25.1,"y":0.013},{"x":25.3,"y":0.009},{"x":25.7,"y":0.021},{"x":25.9,"y":0.011},{"x":26.3,"y":0.015},{"x":26.5,"y":0.022},{"x":26.7,"y":0.009},{"x":27,"y":0.019},{"x":27.3,"y":0.011},{"x":27.5,"y":0.016},{"x":27.7,"y":0.025},{"x":28,"y":0.012},{"x":28.3,"y":0.017},{"x":28.5,"y":0.008},{"x":28.7,"y":0.014},{"x":28.9,"y":0.02},{"x":18.5,"y":0.009},{"x":19.5,"y":0.012},{"x":20.5,"y":0.009},{"x":21.5,"y":0.012},{"x":22.5,"y":0.011},{"x":23.5,"y":0.009},{"x":24.1,"y":0.013},{"x":22.8,"y":0.018},{"x":20.3,"y":0.02}],
"gL":[{"x":15.7,"y":0.009,"lo":0.006,"hi":0.012},{"x":17,"y":0.011,"lo":0.009,"hi":0.013},{"x":18.5,"y":0.015,"lo":0.0135,"hi":0.0165},{"x":20,"y":0.02,"lo":0.0185,"hi":0.0215},{"x":21.5,"y":0.0225,"lo":0.021,"hi":0.024},{"x":22.5,"y":0.0215,"lo":0.02,"hi":0.023},{"x":24,"y":0.0185,"lo":0.017,"hi":0.02},{"x":26,"y":0.0163,"lo":0.015,"hi":0.0176},{"x":27.5,"y":0.018,"lo":0.0165,"hi":0.0195},{"x":29,"y":0.0215,"lo":0.019,"hi":0.024}],
"h":[{"x":1e5,"y":0.003},{"x":2e5,"y":0.012},{"x":3e5,"y":0.02},{"x":3e5,"y":0.008},{"x":4e5,"y":0.015},{"x":5e5,"y":0.01},{"x":5e5,"y":0.027},{"x":6e5,"y":0.006},{"x":6e5,"y":0.018},{"x":7e5,"y":0.052},{"x":7e5,"y":0.012},{"x":8e5,"y":0.022},{"x":8e5,"y":0.009},{"x":9e5,"y":0.016},{"x":9e5,"y":0.03},{"x":1e6,"y":0.002},{"x":1e6,"y":0.012},{"x":1e6,"y":0.02},{"x":1.1e6,"y":0.008},{"x":1.1e6,"y":0.025},{"x":1.2e6,"y":0.014},{"x":1.2e6,"y":0.04},{"x":1.3e6,"y":0.01},{"x":1.3e6,"y":0.019},{"x":1.4e6,"y":0.03},{"x":1.5e6,"y":0.012},{"x":1.5e6,"y":0.022},{"x":1.6e6,"y":0.017},{"x":1.7e6,"y":0.008},{"x":1.8e6,"y":0.026},{"x":1.9e6,"y":0.014},{"x":2e6,"y":0.038},{"x":2e6,"y":0.02},{"x":2.2e6,"y":0.03},{"x":2.3e6,"y":0.012},{"x":2.5e6,"y":0.025},{"x":2.6e6,"y":0.044},{"x":2.8e6,"y":0.038},{"x":2.9e6,"y":0.02},{"x":3e6,"y":0.05},{"x":3.1e6,"y":0.028},{"x":3.3e6,"y":0.035},{"x":3.5e6,"y":0.06},{"x":3.6e6,"y":0.025},{"x":3.8e6,"y":0.032},{"x":4e6,"y":0.05},{"x":4.1e6,"y":0.02},{"x":4.3e6,"y":0.04},{"x":4.5e6,"y":0.017},{"x":4.7e6,"y":0.064},{"x":4.8e6,"y":0.029},{"x":5e6,"y":0.045},{"x":5.3e6,"y":0.015},{"x":5.5e6,"y":0.03},{"x":5.8e6,"y":0.015},{"x":6e6,"y":0.041},{"x":6.5e6,"y":0.053},{"x":6.5e6,"y":0.007},{"x":7e6,"y":0.031},{"x":7.5e6,"y":0.056},{"x":7.8e6,"y":0.034},{"x":8.2e6,"y":0.05},{"x":8.5e6,"y":0.027},{"x":1.05e7,"y":0.04},{"x":4e5,"y":0.006},{"x":7e5,"y":0.016},{"x":9e5,"y":0.01},{"x":1.1e6,"y":0.015},{"x":1.3e6,"y":0.025},{"x":1.6e6,"y":0.011},{"x":5e5,"y":0.013},{"x":8e5,"y":0.013},{"x":2e5,"y":0.008},{"x":3e5,"y":0.013},{"x":3e5,"y":0.017},{"x":4e5,"y":0.01},{"x":4e5,"y":0.022},{"x":5e5,"y":0.007},{"x":5e5,"y":0.018},{"x":6e5,"y":0.012},{"x":6e5,"y":0.025},{"x":7e5,"y":0.009},{"x":7e5,"y":0.02},{"x":8e5,"y":0.016},{"x":8e5,"y":0.006},{"x":9e5,"y":0.012},{"x":9e5,"y":0.022},{"x":1e6,"y":0.008},{"x":1e6,"y":0.016},{"x":1.1e6,"y":0.011},{"x":1.1e6,"y":0.019},{"x":1.2e6,"y":0.008},{"x":1.2e6,"y":0.022},{"x":1.3e6,"y":0.014},{"x":1.4e6,"y":0.01},{"x":1.4e6,"y":0.018},{"x":1.5e6,"y":0.008},{"x":1.6e6,"y":0.022},{"x":1.7e6,"y":0.014},{"x":1.8e6,"y":0.01},{"x":2.1e6,"y":0.016}],
"hL":[{"x":0,"y":0.012,"lo":0.01,"hi":0.014},{"x":1e6,"y":0.0145,"lo":0.0135,"hi":0.0155},{"x":2e6,"y":0.019,"lo":0.0175,"hi":0.0205},{"x":3e6,"y":0.025,"lo":0.023,"hi":0.027},{"x":4e6,"y":0.029,"lo":0.027,"hi":0.031},{"x":5e6,"y":0.031,"lo":0.028,"hi":0.034},{"x":6e6,"y":0.033,"lo":0.029,"hi":0.037},{"x":7e6,"y":0.035,"lo":0.03,"hi":0.04},{"x":8e6,"y":0.038,"lo":0.032,"hi":0.044},{"x":9e6,"y":0.04,"lo":0.031,"hi":0.049},{"x":1.05e7,"y":0.0415,"lo":0.029,"hi":0.054}],
"i":[{"x":16,"y":0.065},{"x":16.5,"y":0.07},{"x":17,"y":0.06},{"x":17.5,"y":0.075},{"x":18,"y":0.07},{"x":18.5,"y":0.082},{"x":19,"y":0.085},{"x":19.5,"y":0.08},{"x":20,"y":0.088},{"x":20.5,"y":0.09},{"x":21,"y":0.082},{"x":21.5,"y":0.092},{"x":22,"y":0.088},{"x":22.5,"y":0.095},{"x":23,"y":0.09},{"x":23.5,"y":0.098},{"x":24,"y":0.1},{"x":24.5,"y":0.105},{"x":25,"y":0.11},{"x":25.3,"y":0.1},{"x":25.6,"y":0.115},{"x":25.9,"y":0.12},{"x":26.2,"y":0.108},{"x":26.5,"y":0.125},{"x":26.8,"y":0.115},{"x":27,"y":0.13},{"x":27.2,"y":0.11},{"x":27.5,"y":0.122},{"x":27.8,"y":0.105},{"x":28,"y":0.118},{"x":28.3,"y":0.1},{"x":28.6,"y":0.12},{"x":28.8,"y":0.095},{"x":26,"y":0.1},{"x":27.4,"y":0.098},{"x":18,"y":0.02},{"x":18.8,"y":-0.05},{"x":19.2,"y":0.04},{"x":19.5,"y":-0.03},{"x":20,"y":-0.097},{"x":20.3,"y":0.06},{"x":20.8,"y":0.01},{"x":21,"y":-0.06},{"x":21.3,"y":-0.02},{"x":21.6,"y":-0.08},{"x":21.9,"y":0.03},{"x":22.2,"y":-0.065},{"x":22.5,"y":-0.09},{"x":22.8,"y":0.0},{"x":23,"y":-0.04},{"x":23.3,"y":-0.075},{"x":23.6,"y":0.02},{"x":24,"y":-0.05},{"x":24.3,"y":0.05},{"x":24.6,"y":-0.01},{"x":25,"y":0.03},{"x":25.4,"y":0.065},{"x":25.8,"y":-0.02},{"x":26.2,"y":0.04},{"x":26.6,"y":0.075},{"x":27,"y":0.02},{"x":27.3,"y":0.045},{"x":27.6,"y":-0.035},{"x":28,"y":0.06},{"x":28.4,"y":0.03},{"x":28.7,"y":0.08},{"x":22,"y":-0.085},{"x":23.8,"y":0.0},{"x":21.4,"y":0.07},{"x":24.2,"y":0.093},{"x":24.8,"y":0.098},{"x":25.2,"y":0.12},{"x":25.5,"y":0.105},{"x":25.8,"y":0.095},{"x":26.1,"y":0.118},{"x":26.4,"y":0.11},{"x":26.7,"y":0.1},{"x":26.9,"y":0.122},{"x":27.1,"y":0.118},{"x":27.3,"y":0.125},{"x":27.6,"y":0.112},{"x":27.9,"y":0.118},{"x":28.1,"y":0.108},{"x":28.4,"y":0.115},{"x":28.7,"y":0.108},{"x":23.2,"y":0.092},{"x":22.2,"y":0.085},{"x":20.8,"y":0.085},{"x":19.8,"y":0.082}],
"iL":[{"x":16,"y":0.075,"lo":0.04,"hi":0.12},{"x":17,"y":0.06,"lo":0.035,"hi":0.09},{"x":18.5,"y":0.045,"lo":0.03,"hi":0.06},{"x":20,"y":0.032,"lo":0.022,"hi":0.042},{"x":21,"y":0.018,"lo":0.008,"hi":0.028},{"x":22,"y":0.007,"lo":-0.003,"hi":0.017},{"x":23,"y":0.02,"lo":0.01,"hi":0.03},{"x":24,"y":0.05,"lo":0.042,"hi":0.058},{"x":25.5,"y":0.08,"lo":0.073,"hi":0.087},{"x":26.8,"y":0.097,"lo":0.09,"hi":0.104},{"x":27.8,"y":0.09,"lo":0.082,"hi":0.098},{"x":28.7,"y":0.077,"lo":0.065,"hi":0.089}],
"j":[{"x":16,"y":0.1},{"x":16.5,"y":0.095},{"x":17,"y":0.085},{"x":17.5,"y":0.09},{"x":18,"y":0.08},{"x":18.5,"y":0.075},{"x":19,"y":0.085},{"x":19.5,"y":0.08},{"x":20,"y":0.078},{"x":20.5,"y":0.09},{"x":21,"y":0.075},{"x":21.5,"y":0.085},{"x":22,"y":0.07},{"x":22.5,"y":0.08},{"x":23,"y":0.075},{"x":23.5,"y":0.085},{"x":24,"y":0.07},{"x":24.5,"y":0.078},{"x":25,"y":0.065},{"x":25.3,"y":0.08},{"x":25.6,"y":0.07},{"x":25.9,"y":0.085},{"x":26.2,"y":0.06},{"x":26.5,"y":0.075},{"x":26.8,"y":0.068},{"x":27,"y":0.085},{"x":27.2,"y":0.062},{"x":27.5,"y":0.075},{"x":27.8,"y":0.055},{"x":28,"y":0.07},{"x":28.3,"y":0.06},{"x":28.6,"y":0.075},{"x":28.8,"y":0.05},{"x":26,"y":0.072},{"x":27.4,"y":0.065},{"x":18.5,"y":-0.095},{"x":18.8,"y":-0.05},{"x":19.2,"y":0.03},{"x":19.5,"y":-0.03},{"x":20,"y":-0.1},{"x":20.3,"y":0.05},{"x":20.8,"y":-0.01},{"x":21,"y":-0.06},{"x":21.3,"y":-0.09},{"x":21.6,"y":0.0},{"x":21.9,"y":-0.04},{"x":22.2,"y":-0.075},{"x":22.5,"y":-0.12},{"x":22.8,"y":0.02},{"x":23,"y":-0.08},{"x":23.3,"y":-0.03},{"x":23.6,"y":-0.11},{"x":24,"y":-0.05},{"x":24.3,"y":0.04},{"x":24.6,"y":-0.02},{"x":25,"y":-0.09},{"x":25.4,"y":0.03},{"x":25.8,"y":-0.04},{"x":26.2,"y":0.0},{"x":26.6,"y":-0.1},{"x":27,"y":-0.02},{"x":27.3,"y":0.04},{"x":27.6,"y":-0.12},{"x":28,"y":-0.03},{"x":28.4,"y":0.02},{"x":28.7,"y":-0.095},{"x":22,"y":-0.015},{"x":23.8,"y":0.01},{"x":26.8,"y":-0.06},{"x":24.2,"y":0.075},{"x":24.8,"y":0.07},{"x":25.2,"y":0.073},{"x":25.5,"y":0.062},{"x":25.8,"y":0.078},{"x":26.1,"y":0.065},{"x":26.4,"y":0.08},{"x":26.7,"y":0.072},{"x":26.9,"y":0.06},{"x":27.1,"y":0.07},{"x":27.3,"y":0.078},{"x":27.6,"y":0.065},{"x":27.9,"y":0.072},{"x":28.1,"y":0.062},{"x":28.4,"y":0.068},{"x":28.7,"y":0.06},{"x":23.2,"y":0.08},{"x":22.2,"y":0.078},{"x":20.8,"y":0.082},{"x":19.8,"y":0.085}],
"jL":[{"x":16,"y":0.093,"lo":0.06,"hi":0.14},{"x":17,"y":0.075,"lo":0.05,"hi":0.1},{"x":18.5,"y":0.055,"lo":0.04,"hi":0.07},{"x":20,"y":0.033,"lo":0.022,"hi":0.044},{"x":21.5,"y":0.012,"lo":0.003,"hi":0.021},{"x":22.5,"y":0.008,"lo":0.0,"hi":0.016},{"x":23.5,"y":0.015,"lo":0.008,"hi":0.022},{"x":25,"y":0.03,"lo":0.024,"hi":0.036},{"x":26.5,"y":0.04,"lo":0.034,"hi":0.046},{"x":27.5,"y":0.037,"lo":0.03,"hi":0.044},{"x":28.7,"y":0.022,"lo":0.01,"hi":0.034}],
"k":[{"x":15.8,"y":0.085},{"x":16,"y":0.075},{"x":16.3,"y":0.09},{"x":16.6,"y":0.08},{"x":17,"y":0.07},{"x":17.3,"y":0.085},{"x":17.6,"y":0.095},{"x":18,"y":0.078},{"x":18.3,"y":0.09},{"x":18.6,"y":0.068},{"x":19,"y":0.1},{"x":19.3,"y":0.082},{"x":19.6,"y":0.06},{"x":20,"y":0.105},{"x":20.3,"y":0.088},{"x":20.6,"y":0.072},{"x":21,"y":0.095},{"x":21.2,"y":0.05},{"x":21.5,"y":0.085},{"x":21.8,"y":0.1},{"x":22,"y":0.065},{"x":22.3,"y":0.08},{"x":22.6,"y":0.04},{"x":22.9,"y":0.092},{"x":23.2,"y":0.06},{"x":23.5,"y":0.075},{"x":23.8,"y":0.045},{"x":24,"y":0.085},{"x":24.3,"y":0.055},{"x":24.6,"y":0.07},{"x":24.9,"y":0.035},{"x":25.2,"y":0.06},{"x":25.5,"y":0.08},{"x":25.8,"y":0.045},{"x":26,"y":0.065},{"x":26.2,"y":0.03},{"x":26.5,"y":0.055},{"x":26.8,"y":0.07},{"x":27,"y":0.04},{"x":27.2,"y":0.058},{"x":27.5,"y":0.025},{"x":27.8,"y":0.065},{"x":28,"y":0.045},{"x":28.2,"y":0.075},{"x":28.5,"y":0.035},{"x":28.7,"y":0.055},{"x":28.9,"y":0.08},{"x":26.4,"y":0.048},{"x":27.4,"y":0.05},{"x":25,"y":0.05},{"x":23,"y":0.07},{"x":20.8,"y":0.08},{"x":19.8,"y":0.075},{"x":18.8,"y":0.085},{"x":17.8,"y":0.08},{"x":16.8,"y":0.078},{"x":20.2,"y":0.095},{"x":20.9,"y":0.09},{"x":21.4,"y":0.075},{"x":22.1,"y":0.085},{"x":22.8,"y":0.07},{"x":23.3,"y":0.08},{"x":23.9,"y":0.06},{"x":24.4,"y":0.07},{"x":24.8,"y":0.05},{"x":25.3,"y":0.065},{"x":25.7,"y":0.055},{"x":26.1,"y":0.05},{"x":26.6,"y":0.06},{"x":27.1,"y":0.045},{"x":27.6,"y":0.055},{"x":28.1,"y":0.05},{"x":28.6,"y":0.06},{"x":28.8,"y":0.04},{"x":26.9,"y":0.035},{"x":25.9,"y":0.07}],
"kL":[{"x":15.7,"y":0.083,"lo":0.074,"hi":0.092},{"x":17,"y":0.082,"lo":0.076,"hi":0.088},{"x":19,"y":0.081,"lo":0.077,"hi":0.085},{"x":20.5,"y":0.08,"lo":0.076,"hi":0.084},{"x":22,"y":0.074,"lo":0.07,"hi":0.078},{"x":23.5,"y":0.065,"lo":0.061,"hi":0.069},{"x":25,"y":0.057,"lo":0.053,"hi":0.061},{"x":26.5,"y":0.051,"lo":0.047,"hi":0.055},{"x":28.5,"y":0.054,"lo":0.048,"hi":0.06}],
"l":[{"x":2e5,"y":-0.05},{"x":3e5,"y":-0.03},{"x":4e5,"y":-0.07},{"x":5e5,"y":-0.04},{"x":6e5,"y":-0.06},{"x":7e5,"y":-0.02},{"x":8e5,"y":-0.055},{"x":9e5,"y":-0.08},{"x":1e6,"y":-0.045},{"x":1.1e6,"y":-0.065},{"x":1.2e6,"y":-0.03},{"x":1.3e6,"y":-0.05},{"x":5e5,"y":-0.09},{"x":9e5,"y":-0.1},{"x":1.4e6,"y":-0.07},{"x":1.6e6,"y":-0.04},{"x":3e5,"y":-0.065},{"x":7e5,"y":-0.075},{"x":2e5,"y":0.02},{"x":3e5,"y":0.04},{"x":4e5,"y":0.06},{"x":5e5,"y":0.03},{"x":6e5,"y":0.08},{"x":7e5,"y":0.05},{"x":8e5,"y":0.01},{"x":9e5,"y":0.07},{"x":1e6,"y":0.035},{"x":1.1e6,"y":0.09},{"x":1.2e6,"y":0.055},{"x":1.3e6,"y":0.02},{"x":1.5e6,"y":0.075},{"x":1.6e6,"y":0.045},{"x":1e5,"y":0.14},{"x":4e5,"y":0.005},{"x":1e6,"y":-0.01},{"x":1.5e6,"y":0.12},{"x":1.8e6,"y":0.1},{"x":2e6,"y":0.06},{"x":2.2e6,"y":0.125},{"x":2.5e6,"y":0.085},{"x":2.8e6,"y":0.11},{"x":3e6,"y":0.05},{"x":3.2e6,"y":0.13},{"x":3.5e6,"y":0.16},{"x":3.6e6,"y":0.07},{"x":3.8e6,"y":0.1},{"x":4e6,"y":0.12},{"x":4.3e6,"y":0.08},{"x":4.6e6,"y":0.13},{"x":4.9e6,"y":0.095},{"x":5.2e6,"y":0.11},{"x":5.5e6,"y":0.065},{"x":5.8e6,"y":0.13},{"x":6.2e6,"y":0.1},{"x":6.5e6,"y":0.135},{"x":7e6,"y":0.07},{"x":7.5e6,"y":0.11},{"x":8e6,"y":0.125},{"x":8.5e6,"y":0.105},{"x":1.05e7,"y":0.14},{"x":2.6e6,"y":0.03},{"x":2e6,"y":0.0},{"x":1.8e6,"y":0.03},{"x":3e5,"y":-0.045},{"x":4e5,"y":-0.055},{"x":5e5,"y":-0.06},{"x":6e5,"y":-0.045},{"x":7e5,"y":-0.05},{"x":8e5,"y":-0.065},{"x":9e5,"y":-0.05},{"x":1e6,"y":-0.06},{"x":1.1e6,"y":-0.04},{"x":1.2e6,"y":-0.055},{"x":6e5,"y":-0.035},{"x":9e5,"y":-0.035},{"x":4e5,"y":0.035},{"x":6e5,"y":0.045},{"x":8e5,"y":0.06},{"x":1e6,"y":0.05},{"x":1.2e6,"y":0.04},{"x":1.4e6,"y":0.06},{"x":7e5,"y":0.025},{"x":1.1e6,"y":0.07},{"x":1.3e6,"y":0.1},{"x":9e5,"y":0.095}],
"lL":[{"x":2e5,"y":-0.04,"lo":-0.05,"hi":-0.03},{"x":8e5,"y":-0.02,"lo":-0.027,"hi":-0.013},{"x":1.5e6,"y":0.0,"lo":-0.007,"hi":0.007},{"x":2.2e6,"y":0.03,"lo":0.022,"hi":0.038},{"x":3e6,"y":0.06,"lo":0.05,"hi":0.07},{"x":4e6,"y":0.078,"lo":0.068,"hi":0.088},{"x":5e6,"y":0.09,"lo":0.078,"hi":0.102},{"x":6.5e6,"y":0.105,"lo":0.09,"hi":0.12},{"x":8e6,"y":0.118,"lo":0.095,"hi":0.141},{"x":9e6,"y":0.127,"lo":0.095,"hi":0.16},{"x":1.05e7,"y":0.14,"lo":0.095,"hi":0.195}],
"m":[{"x":2e5,"y":-0.03},{"x":3e5,"y":-0.05},{"x":4e5,"y":-0.02},{"x":5e5,"y":-0.07},{"x":6e5,"y":-0.04},{"x":7e5,"y":-0.01},{"x":8e5,"y":-0.06},{"x":9e5,"y":-0.035},{"x":1e6,"y":-0.08},{"x":1.1e6,"y":-0.02},{"x":1.2e6,"y":-0.05},{"x":1.3e6,"y":-0.03},{"x":4e5,"y":-0.1},{"x":8e5,"y":-0.09},{"x":1.5e6,"y":-0.06},{"x":1.7e6,"y":-0.02},{"x":3e5,"y":-0.015},{"x":2e5,"y":0.02},{"x":3e5,"y":0.05},{"x":4e5,"y":0.03},{"x":5e5,"y":0.065},{"x":6e5,"y":0.01},{"x":7e5,"y":0.045},{"x":8e5,"y":0.06},{"x":9e5,"y":0.02},{"x":1e6,"y":0.04},{"x":1.1e6,"y":0.07},{"x":1.2e6,"y":0.01},{"x":1.3e6,"y":0.05},{"x":1.5e6,"y":0.03},{"x":1.7e6,"y":0.06},{"x":2e6,"y":0.045},{"x":2.2e6,"y":0.065},{"x":2e6,"y":-0.04},{"x":2.3e6,"y":0.02},{"x":2.5e6,"y":0.05},{"x":2.8e6,"y":-0.07},{"x":3e6,"y":0.04},{"x":3.2e6,"y":0.01},{"x":3.5e6,"y":0.06},{"x":3.8e6,"y":0.03},{"x":4e6,"y":-0.02},{"x":4.2e6,"y":0.05},{"x":4.5e6,"y":0.02},{"x":4.8e6,"y":0.045},{"x":5e6,"y":0.01},{"x":5.5e6,"y":0.04},{"x":6e6,"y":0.03},{"x":6.5e6,"y":0.055},{"x":7e6,"y":0.085},{"x":7.5e6,"y":0.03},{"x":8e6,"y":0.045},{"x":8.5e6,"y":0.06},{"x":1.05e7,"y":0.035},{"x":3e5,"y":-0.035},{"x":4e5,"y":-0.045},{"x":5e5,"y":-0.03},{"x":6e5,"y":-0.055},{"x":7e5,"y":-0.035},{"x":8e5,"y":-0.025},{"x":9e5,"y":-0.05},{"x":1e6,"y":-0.04},{"x":1.1e6,"y":-0.055},{"x":1.2e6,"y":-0.035},{"x":1.4e6,"y":-0.04},{"x":5e5,"y":-0.01},{"x":7e5,"y":0.03},{"x":9e5,"y":0.05},{"x":1.1e6,"y":0.035},{"x":1.3e6,"y":0.02},{"x":6e5,"y":0.04},{"x":1.5e6,"y":0.05},{"x":8e5,"y":0.015},{"x":1e6,"y":0.06}],
"mL":[{"x":2e5,"y":-0.037,"lo":-0.045,"hi":-0.029},{"x":1e6,"y":-0.02,"lo":-0.026,"hi":-0.014},{"x":2e6,"y":0.0,"lo":-0.006,"hi":0.006},{"x":3e6,"y":0.017,"lo":0.01,"hi":0.024},{"x":4e6,"y":0.03,"lo":0.022,"hi":0.038},{"x":5e6,"y":0.037,"lo":0.027,"hi":0.047},{"x":6.5e6,"y":0.04,"lo":0.027,"hi":0.053},{"x":8e6,"y":0.041,"lo":0.02,"hi":0.062},{"x":9e6,"y":0.041,"lo":0.013,"hi":0.069},{"x":1.05e7,"y":0.041,"lo":0.0,"hi":0.085}],
"n":[{"x":2e5,"y":0.02},{"x":3e5,"y":0.045},{"x":4e5,"y":0.01},{"x":5e5,"y":0.03},{"x":6e5,"y":0.05},{"x":7e5,"y":0.015},{"x":8e5,"y":0.035},{"x":9e5,"y":0.0},{"x":1e6,"y":0.025},{"x":1.1e6,"y":0.04},{"x":1.2e6,"y":0.01},{"x":1.4e6,"y":0.03},{"x":1.6e6,"y":0.045},{"x":5e5,"y":-0.02},{"x":1.3e6,"y":-0.03},{"x":2e5,"y":-0.08},{"x":3e5,"y":-0.12},{"x":4e5,"y":-0.1},{"x":5e5,"y":-0.14},{"x":6e5,"y":-0.07},{"x":7e5,"y":-0.11},{"x":8e5,"y":-0.16},{"x":9e5,"y":-0.09},{"x":1e6,"y":-0.13},{"x":1.1e6,"y":-0.06},{"x":1.2e6,"y":-0.1},{"x":1.3e6,"y":-0.15},{"x":1.4e6,"y":-0.08},{"x":1.5e6,"y":-0.12},{"x":1.7e6,"y":-0.1},{"x":1.9e6,"y":-0.07},{"x":3e5,"y":-0.15},{"x":6e5,"y":-0.05},{"x":1e6,"y":-0.085},{"x":1.8e6,"y":-0.14},{"x":2e6,"y":-0.05},{"x":2.2e6,"y":-0.11},{"x":2.5e6,"y":-0.08},{"x":2.8e6,"y":-0.13},{"x":3e6,"y":-0.06},{"x":3.2e6,"y":-0.1},{"x":3.5e6,"y":0.02},{"x":3.8e6,"y":-0.08},{"x":4e6,"y":-0.12},{"x":4.3e6,"y":-0.07},{"x":4.6e6,"y":-0.09},{"x":5e6,"y":-0.05},{"x":5.5e6,"y":-0.11},{"x":6e6,"y":-0.06},{"x":6.5e6,"y":0.02},{"x":7e6,"y":-0.1},{"x":7.5e6,"y":-0.06},{"x":8e6,"y":-0.08},{"x":8.5e6,"y":-0.05},{"x":1.05e7,"y":-0.06},{"x":2.6e6,"y":0.04},{"x":3e5,"y":0.025},{"x":5e5,"y":0.015},{"x":7e5,"y":0.035},{"x":9e5,"y":0.02},{"x":1.1e6,"y":0.025},{"x":4e5,"y":-0.09},{"x":5e5,"y":-0.11},{"x":6e5,"y":-0.12},{"x":7e5,"y":-0.085},{"x":8e5,"y":-0.1},{"x":9e5,"y":-0.12},{"x":1e6,"y":-0.105},{"x":1.1e6,"y":-0.09},{"x":1.2e6,"y":-0.13},{"x":1.3e6,"y":-0.11},{"x":1.4e6,"y":-0.1},{"x":1.5e6,"y":-0.09},{"x":1.6e6,"y":-0.12},{"x":6e5,"y":-0.095},{"x":8e5,"y":-0.13},{"x":1e6,"y":-0.07},{"x":1.2e6,"y":-0.075}],
"nL":[{"x":2e5,"y":-0.055,"lo":-0.065,"hi":-0.045},{"x":8e5,"y":-0.07,"lo":-0.077,"hi":-0.063},{"x":1.5e6,"y":-0.078,"lo":-0.085,"hi":-0.071},{"x":2.5e6,"y":-0.08,"lo":-0.088,"hi":-0.072},{"x":3.5e6,"y":-0.08,"lo":-0.09,"hi":-0.07},{"x":4.5e6,"y":-0.073,"lo":-0.085,"hi":-0.061},{"x":5.5e6,"y":-0.063,"lo":-0.078,"hi":-0.048},{"x":7e6,"y":-0.053,"lo":-0.073,"hi":-0.033},{"x":8.5e6,"y":-0.047,"lo":-0.078,"hi":-0.016},{"x":1.05e7,"y":-0.043,"lo":-0.095,"hi":0.02}]
}
}
